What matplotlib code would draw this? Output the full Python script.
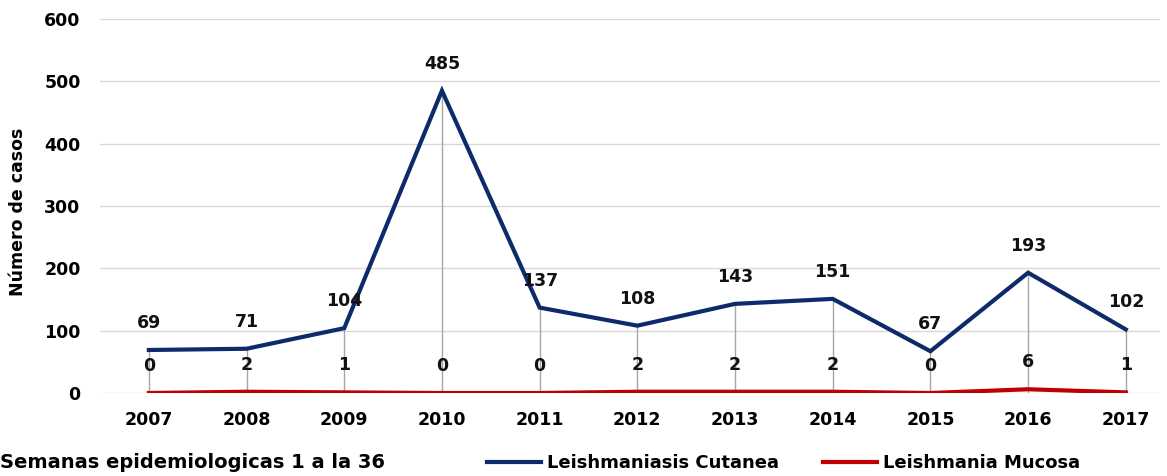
import matplotlib
matplotlib.use("Agg")
import matplotlib.pyplot as plt
from matplotlib.lines import Line2D

years = ["2007", "2008", "2009", "2010", "2011", "2012", "2013", "2014", "2015", "2016", "2017"]
cutanea = [69, 71, 104, 485, 137, 108, 143, 151, 67, 193, 102]
mucosa = [0, 2, 1, 0, 0, 2, 2, 2, 0, 6, 1]

BLUE = "#0d2b6b"
RED = "#c00000"
GRID = "#d9d9d9"
DROP = "#a6a6a6"

plt.rcParams["font.family"] = "DejaVu Sans"

fig = plt.figure(figsize=(11.67, 4.76), dpi=100)
ax = fig.add_axes([100 / 1167, 83 / 476, 1060 / 1167, 374 / 476])

x = list(range(len(years)))
ax.vlines(x, 0, cutanea, color=DROP, lw=1, zorder=1)
ax.plot(x, cutanea, color=BLUE, lw=3, zorder=3, solid_joinstyle="miter")
ax.plot(x, mucosa, color=RED, lw=3, zorder=3)

for series in (cutanea, mucosa):
    for xi, v in zip(x, series):
        ax.annotate(str(v), (xi, v), xytext=(0, 19.5), textcoords="offset points",
                    ha="center", va="center", fontsize=12.5, fontweight="bold",
                    color="#111111", zorder=4)

ax.set_xlim(-0.5, 10.35)
ax.set_ylim(0, 600)
ax.set_yticks(range(0, 601, 100))
ax.set_xticks(x)
ax.set_xticklabels(years)
ax.grid(axis="y", color=GRID, lw=1, zorder=0)
ax.set_axisbelow(True)
for s in ax.spines.values():
    s.set_visible(False)
ax.tick_params(length=0, labelsize=12.5, pad=14)
ax.tick_params(axis="x", pad=13)
for lab in ax.get_xticklabels() + ax.get_yticklabels():
    lab.set_fontweight("bold")

fig.text(18 / 1167, 0.555, "Número de casos", rotation=90, ha="center", va="center",
         fontsize=12.5, fontweight="bold")
fig.text(0.0, 13 / 476, "Semanas epidemiologicas 1 a la 36", ha="left", va="center",
         fontsize=14, fontweight="bold")

handles = [Line2D([], [], color=BLUE, lw=3), Line2D([], [], color=RED, lw=3)]
fig.legend(handles, ["Leishmaniasis Cutanea", "Leishmania Mucosa"], ncol=2,
           loc="center left", bbox_to_anchor=(487 / 1167, 13 / 476), frameon=False,
           borderpad=0, borderaxespad=0, handlelength=3, handletextpad=0.35,
           columnspacing=2.4, prop={"size": 13, "weight": "bold"})

fig.savefig("out.png", dpi=100, facecolor="white")
